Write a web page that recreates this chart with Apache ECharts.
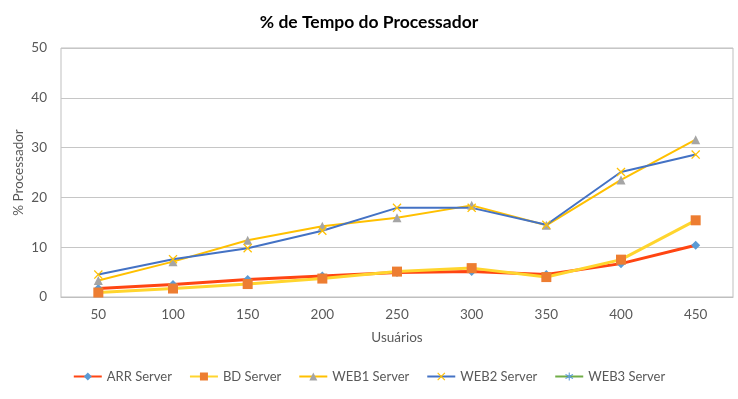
<!DOCTYPE html>
<html>
<head>
<meta charset="utf-8">
<script src="https://cdn.jsdelivr.net/npm/echarts@6/dist/echarts.min.js"></script>
<style>
    html, body { margin: 0; padding: 0; background: #fff; }
    #chart { width: 738px; height: 399px; }
</style>
</head>
<body>
<div id="chart"></div>
<script>
// eixo x: numero de usuarios
var usuarios = ['50', '100', '150', '200', '250', '300', '350', '400', '450'];

// % do processador por servidor
var arrServer = [1.7, 2.5, 3.5, 4.2, 4.9, 5.1, 4.5, 6.7, 10.4];
var bdServer = [0.9, 1.7, 2.6, 3.7, 5.1, 5.8, 4.0, 7.5, 15.4];
var web1Server = [3.3, 7.1, 11.4, 14.2, 15.9, 18.4, 14.4, 23.5, 31.6];
var web2Server = [4.5, 7.6, 9.8, 13.3, 17.9, 17.9, 14.5, 25.1, 28.6];
var web3Server = []; // sem valores visiveis no grafico

var fonte = 'Lato, "Open Sans", sans-serif';
var cinza = '#595959';

// marcador em forma de X
var xSymbol = 'path://M0,1L1,0L5,4L9,0L10,1L6,5L10,9L9,10L5,6L1,10L0,9L4,5Z';
var starSymbol = 'path://M4.4,0H5.6V3.9L9,2L9.6,3L6.2,5L9.6,7L9,8L5.6,6.1V10H4.4V6.1L1,8L0.4,7L3.8,5L0.4,3L1,2L4.4,3.9Z';

function serie(nome, dados, corLinha, largura, simbolo, tamanho, corSimbolo) {
    return {
        name: nome,
        type: 'line',
        data: dados,
        symbol: simbolo,
        symbolSize: tamanho,
        showAllSymbol: true,
        lineStyle: { color: corLinha, width: largura },
        itemStyle: { color: corSimbolo },
        emphasis: { disabled: true }
    };
}

var myChart = echarts.init(document.getElementById('chart'));

var option = {
    animation: false,
    textStyle: { fontFamily: fonte },
    title: {
        text: '% de Tempo do Processador',
        left: 'center',
        top: 8,
        textStyle: { fontSize: 17.5, fontWeight: 'bold', color: '#000', fontFamily: fonte }
    },
    legend: {
        bottom: 11,
        left: 'center',
        itemWidth: 28,
        itemHeight: 10,
        itemGap: 17,
        textStyle: { fontSize: 13, color: cinza, fontFamily: fonte },
        data: ['ARR Server', 'BD Server', 'WEB1 Server', 'WEB2 Server', 'WEB3 Server']
    },
    grid: {
        left: 61,
        right: 5,
        top: 48,
        bottom: 102,
        show: true,
        borderColor: '#BFBFBF',
        borderWidth: 1
    },
    xAxis: {
        type: 'category',
        data: usuarios,
        boundaryGap: true,
        name: 'Usuários',
        nameLocation: 'middle',
        nameGap: 34,
        nameTextStyle: { fontSize: 13.5, color: cinza },
        axisLine: { lineStyle: { color: '#BFBFBF' } },
        axisTick: { show: false },
        axisLabel: { fontSize: 13.5, color: cinza, margin: 11 }
    },
    yAxis: {
        type: 'value',
        min: 0,
        max: 50,
        interval: 10,
        name: '% Processador',
        nameLocation: 'middle',
        nameGap: 35,
        nameMoveOverlap: false,
        nameTextStyle: { fontSize: 13.5, color: cinza },
        axisLine: { show: false },
        axisTick: { show: false },
        axisLabel: { fontSize: 13.5, color: cinza, margin: 14 },
        splitLine: { lineStyle: { color: '#C6C6C6' } }
    },
    series: [
        serie('ARR Server', arrServer, '#FF4512', 3, 'diamond', 9, '#5B9BD5'),
        serie('BD Server', bdServer, '#FFD52E', 3, 'rect', 10, '#ED7D31'),
        serie('WEB1 Server', web1Server, '#FFC000', 2, 'triangle', 9, '#A5A5A5'),
        serie('WEB2 Server', web2Server, '#4472C4', 2, xSymbol, 9, '#FFC000'),
        serie('WEB3 Server', web3Server, '#70AD47', 2, starSymbol, 9, '#5B9BD5')
    ]
};

myChart.setOption(option);
</script>
</body>
</html>
